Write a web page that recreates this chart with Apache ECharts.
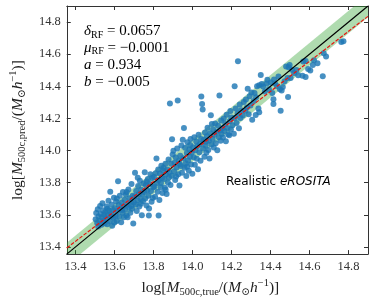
<!DOCTYPE html>
<html><head><meta charset="utf-8">
<script src="https://cdn.jsdelivr.net/npm/echarts@6/dist/echarts.min.js"></script>
<style>html,body{margin:0;padding:0;background:#fff}#c{width:374px;height:303px}</style>
</head><body><div id="c"></div>
<script>
// [log M500c,true , log M500c,pred]
const massPairs = [
[13.503,13.572],[13.506,13.611],[13.511,13.548],[13.514,13.634],[13.518,13.589],[13.522,13.561],[13.526,13.655],[13.529,13.604],[13.533,13.538],[13.537,13.583],[13.541,13.626],[13.544,13.566],[13.538,13.672],[13.547,13.601],[13.549,13.547],[13.516,13.527],
[13.553,13.617],[13.556,13.579],[13.559,13.652],[13.562,13.541],[13.566,13.598],[13.569,13.688],[13.572,13.627],[13.575,13.561],[13.578,13.744],[13.581,13.604],[13.585,13.664],[13.588,13.532],[13.591,13.629],[13.594,13.583],[13.597,13.706],[13.599,13.552],[13.564,13.637],[13.583,13.589],
[13.602,13.641],[13.605,13.594],[13.608,13.683],[13.611,13.561],[13.614,13.622],[13.618,13.808],[13.621,13.661],[13.624,13.589],[13.627,13.719],[13.631,13.637],[13.634,13.553],[13.637,13.676],[13.641,13.612],[13.643,13.742],[13.646,13.652],[13.648,13.584],[13.612,13.702],[13.639,13.629],
[13.652,13.694],[13.655,13.631],[13.658,13.726],[13.661,13.596],[13.664,13.662],[13.667,13.585],[13.671,13.758],[13.674,13.647],[13.677,13.703],[13.681,13.612],[13.684,13.681],[13.687,13.792],[13.690,13.638],[13.693,13.718],[13.696,13.545],[13.699,13.676],[13.662,13.742],[13.686,13.654],
[13.702,13.712],[13.705,13.861],[13.708,13.664],[13.711,13.748],[13.714,13.623],[13.717,13.691],[13.721,13.779],[13.724,13.728],[13.727,13.651],[13.730,13.812],[13.733,13.702],[13.737,13.756],[13.740,13.597],[13.743,13.731],[13.746,13.684],[13.749,13.795],[13.719,13.831],[13.735,13.668],
[13.752,13.741],[13.755,13.865],[13.758,13.702],[13.761,13.786],[13.764,13.657],[13.768,13.752],[13.771,13.823],[13.774,13.718],[13.777,13.639],[13.781,13.791],[13.784,13.852],[13.787,13.748],[13.790,13.681],[13.793,13.829],[13.796,13.704],[13.799,13.771],[13.776,13.596],[13.765,13.807],
[13.802,13.835],[13.805,13.776],[13.808,13.712],[13.811,13.859],[13.815,13.951],[13.818,13.798],[13.821,13.743],[13.824,13.882],[13.827,13.816],[13.830,13.692],[13.833,13.857],[13.837,13.772],[13.840,13.905],[13.843,13.829],[13.846,13.736],[13.849,13.874],[13.826,13.595],[13.838,13.798],
[13.852,13.891],[13.855,13.823],[13.858,13.768],[13.861,13.918],[13.864,13.851],[13.867,13.729],[13.871,13.882],[13.874,13.801],[13.877,13.944],[13.881,13.864],[13.884,14.293],[13.887,13.786],[13.890,13.917],[13.893,13.843],[13.895,14.070],[13.898,13.976],[13.862,13.756],[13.879,13.832],
[13.902,13.998],[13.905,13.871],[13.908,13.924],[13.911,13.817],[13.914,13.956],[13.918,13.894],[13.921,14.012],[13.924,14.312],[13.927,13.853],[13.930,13.937],[13.933,13.782],[13.937,13.968],[13.940,13.903],[13.943,14.031],[13.946,13.861],[13.950,14.067],[13.916,13.838],[13.935,13.915],
[13.953,13.952],[13.956,14.140],[13.959,13.893],[13.962,14.018],[13.965,13.921],[13.968,13.842],[13.971,13.985],[13.974,14.052],[13.977,13.938],[13.981,13.874],[13.984,14.006],[13.987,13.962],[13.990,14.071],[13.993,13.913],[13.996,13.988],[13.999,13.856],[13.972,13.899],[13.988,14.035],
[14.003,14.021],[14.006,13.958],[14.009,14.083],[14.012,13.911],[14.015,14.002],[14.019,14.056],[14.022,13.948],[14.025,14.027],[14.028,13.884],[14.031,14.098],[14.035,13.989],[14.038,14.041],[14.041,13.937],[14.045,14.336],[14.049,14.290],[14.052,14.256],[14.044,14.071],
[14.054,14.012],[14.057,14.067],[14.061,13.962],[14.064,14.113],[14.067,14.031],[14.071,13.986],[14.074,14.089],[14.077,14.142],[14.081,14.004],[14.084,14.061],[14.087,13.951],[14.091,14.108],[14.094,14.220],[14.097,14.038],[14.099,14.165],[14.069,14.054],
[14.103,14.071],[14.106,14.131],[14.109,14.019],[14.112,14.098],[14.116,14.168],[14.119,14.045],[14.123,14.115],[14.127,14.002],[14.131,14.154],[14.135,14.082],[14.138,14.342],[14.141,14.124],[14.144,14.061],[14.147,14.187],[14.149,14.103],
[14.153,14.138],[14.156,14.081],[14.160,14.199],[14.164,14.121],[14.168,14.165],[14.171,14.058],[14.175,14.223],[14.179,14.141],[14.183,14.102],[14.188,14.095],[14.191,14.182],[14.194,14.246],[14.197,14.131],[14.199,14.205],
[14.212,14.105],[14.217,14.203],[14.216,14.400],[14.233,14.556],[14.205,14.158],[14.221,14.262],[14.226,14.171],[14.231,14.231],[14.238,14.138],[14.242,14.287],[14.246,14.202],[14.249,14.251],
[14.258,14.218],[14.263,14.302],[14.271,14.247],[14.274,14.318],[14.279,14.268],[14.283,14.385],[14.288,14.226],[14.293,14.338],[14.297,14.281],[14.302,14.362],
[14.306,14.192],[14.314,14.309],[14.318,14.358],[14.326,14.331],[14.331,14.401],[14.342,14.238],[14.342,14.407],[14.350,14.470],[14.355,14.415],[14.338,14.262],[14.324,14.221],
[14.362,14.398],[14.371,14.368],[14.380,14.418],[14.384,14.441],[14.392,14.382],[14.401,14.423],[14.409,14.359],[14.415,14.320],[14.415,14.289],[14.418,14.442],[14.423,14.418],[14.433,14.402],[14.441,14.461],[14.448,14.381],
[14.452,14.248],[14.457,14.374],[14.463,14.395],[14.480,14.524],[14.487,14.452],[14.490,14.334],[14.503,14.451],[14.510,14.503],[14.498,14.532],[14.521,14.482],[14.533,14.501],[14.542,14.468],[14.493,14.519],[14.472,14.431],
[14.564,14.466],[14.568,14.554],[14.580,14.458],[14.580,14.558],[14.593,14.507],[14.617,14.533],[14.623,14.562],[14.641,14.543],[14.668,14.462],[14.673,14.605],[14.685,14.585],[14.604,14.498],
[14.763,14.676],[14.774,14.680]
];
const tickValues = [13.4, 13.6, 13.8, 14.0, 14.2, 14.4, 14.6, 14.8];
const axisMin = 13.355, axisMax = 14.9;
const deltaRF = 0.0657, muRF = -0.0001, slopeA = 0.934, interceptB = -0.005;
const pivotMass = 14.0;
const bandHalfWidth = 0.07;
const statLines = [
  ['δ', 'RF', '= 0.0657'],
  ['μ', 'RF', '= −0.0001'],
  ['a', '', '= 0.934'],
  ['b', '', '= −0.005']
];

const fit = x => pivotMass + slopeA * (x - pivotMass) + interceptB;
const SERIF = '"Liberation Serif","DejaVu Serif",serif';
const AX = '#333';
const richName = {
  n: {fontFamily: SERIF, fontSize: 15.5, color: '#222', lineHeight: 20},
  i: {fontFamily: SERIF, fontSize: 15.5, fontStyle: 'italic', color: '#222', lineHeight: 20},
  s: {fontFamily: SERIF, fontSize: 10.5, color: '#222', verticalAlign: 'bottom', lineHeight: 11},
  p: {fontFamily: SERIF, fontSize: 10.5, color: '#222', verticalAlign: 'top', lineHeight: 11}
};
const axisName = sub => '{n|log[}{i|M}{s|' + sub + '}{n|/(}{i|M}{s|⊙}{i|h}{p|−1}{n|)]}';

function makeAxis(kind, pos, showLabel, withName) {
  const isX = kind === 'x';
  return {
    type: 'value', min: axisMin, max: axisMax, position: pos,
    axisLine: {show: true, onZero: false, lineStyle: {color: AX, width: 1}},
    axisTick: {show: true, inside: true, length: 4, customValues: tickValues, lineStyle: {color: AX, width: 1}},
    axisLabel: {show: showLabel, customValues: tickValues, formatter: v => v.toFixed(1), fontFamily: SERIF, fontSize: 12.5, color: '#333', margin: 6},
    splitLine: {show: false},
    name: withName ? axisName(isX ? '500c,true' : '500c,pred') : '',
    nameLocation: 'middle', nameGap: isX ? 19 : 31,
    nameRotate: isX ? 0 : 90,
    nameTextStyle: {rich: richName, padding: isX ? [0, 14, 0, 0] : 0}
  };
}

const annoRich = {
  i: {fontFamily: SERIF, fontSize: 15, fontStyle: 'italic', color: '#222', lineHeight: 17},
  n: {fontFamily: SERIF, fontSize: 15, color: '#222', lineHeight: 17},
  s: {fontFamily: SERIF, fontSize: 10, color: '#222', verticalAlign: 'bottom', lineHeight: 10}
};
const graphics = statLines.map((l, k) => ({
  type: 'text', left: 84, top: 24 + k * 16.8,
  style: {text: '{i|' + l[0] + '}' + (l[1] ? '{s|' + l[1] + '}' : '') + '{n| ' + l[2] + '}', rich: annoRich}
}));
graphics.push({
  type: 'text', left: 226, top: 176,
  style: {
    text: '{n|Realistic }{i|eROSITA}',
    rich: {
      n: {fontFamily: '"DejaVu Sans",sans-serif', fontSize: 12, color: '#222'},
      i: {fontFamily: '"DejaVu Sans",sans-serif', fontSize: 12, fontStyle: 'italic', color: '#222'}
    }
  }
});

const chart = echarts.init(document.getElementById('c'), null, {renderer: 'canvas'});
chart.setOption({
  animation: false,
  grid: {left: 52, right: 6, top: 6, bottom: 44},
  xAxis: [makeAxis('x', 'bottom', true, true), makeAxis('x', 'top', false, false)],
  yAxis: [makeAxis('y', 'left', true, true), makeAxis('y', 'right', false, false)],
  graphic: graphics,
  series: [
    {
      type: 'custom', silent: true, z: 1, xAxisIndex: 0, yAxisIndex: 0,
      data: [[axisMin, axisMax]],
      renderItem: (params, api) => {
        const pts = [
          api.coord([axisMin, axisMin - bandHalfWidth]),
          api.coord([axisMax, axisMax - bandHalfWidth]),
          api.coord([axisMax, axisMax + bandHalfWidth]),
          api.coord([axisMin, axisMin + bandHalfWidth])
        ];
        const cs = params.coordSys;
        return {
          type: 'polygon', shape: {points: pts},
          style: {fill: 'rgba(44,160,44,0.38)'},
          clipPath: {type: 'rect', shape: {x: cs.x, y: cs.y, width: cs.width, height: cs.height}}
        };
      }
    },
    {
      type: 'scatter', z: 2, xAxisIndex: 0, yAxisIndex: 0,
      data: massPairs, symbolSize: 6,
      itemStyle: {color: '#1f77b4', opacity: 0.82}
    },
    {
      type: 'line', z: 3, xAxisIndex: 0, yAxisIndex: 0, symbol: 'none', silent: true,
      data: [[axisMin, axisMin], [axisMax, axisMax]],
      lineStyle: {color: '#000', width: 1.2}
    },
    {
      type: 'line', z: 4, xAxisIndex: 0, yAxisIndex: 0, symbol: 'none', silent: true,
      data: [[axisMin, fit(axisMin)], [axisMax, fit(axisMax)]],
      lineStyle: {color: '#e8140e', width: 1.2, type: [3.7, 1.6]}
    }
  ]
});
</script>
</body></html>
